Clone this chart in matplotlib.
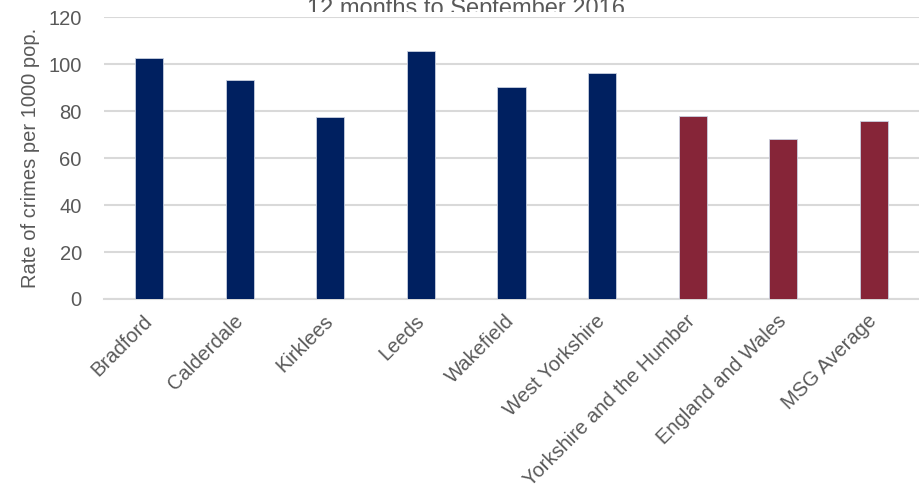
import matplotlib
matplotlib.use("Agg")
import matplotlib.pyplot as plt
from matplotlib.patches import Rectangle

categories = ["Bradford", "Calderdale", "Kirklees", "Leeds", "Wakefield",
              "West Yorkshire", "Yorkshire and the Humber", "England and Wales", "MSG Average"]
values = [102.5, 93.1, 77.3, 105.4, 90.2, 96.1, 77.7, 68.0, 75.6]
bar_colors = ["#002060"] * 6 + ["#862538"] * 3
yticks = [0, 20, 40, 60, 80, 100, 120]
title = "12 months to September 2016"
ylabel = "Rate of crimes per 1000 pop."

plt.rcParams['font.family'] = ['Liberation Sans', 'DejaVu Sans']
W, H = 919, 494
fig = plt.figure(figsize=(W / 100, H / 100), dpi=100)

left, right, top, bottom = 104, 919, 17, 299
ax = fig.add_axes([left / W, 1 - bottom / H, (right - left) / W, (bottom - top) / H])
ax.set_zorder(3)
x = list(range(len(categories)))
ax.bar(x, values, width=0.31, color=bar_colors, edgecolor="#c9d0e0", linewidth=0.6, zorder=3)
ax.set_xlim(-0.5, len(categories) - 0.5)
ax.set_ylim(0, 120)
ax.set_yticks(yticks)
ax.yaxis.grid(True, color="#d9d9d9", linewidth=1.5)
ax.set_axisbelow(True)
for s in ["top", "right", "left"]:
    ax.spines[s].set_visible(False)
ax.spines["bottom"].set_color("#d9d9d9")
ax.spines["bottom"].set_linewidth(1.5)
ax.tick_params(axis="both", length=0, labelsize=14.5, colors="#595959")
ax.tick_params(axis="y", pad=16)
ax.set_xticks(x)
ax.set_xticklabels(categories, rotation=45, ha="right", va="center", rotation_mode="anchor")
for lab in ax.get_xticklabels():
    lab.set_y(-0.05)
ax.set_ylabel(ylabel, fontsize=14.5, color="#595959")
ax.yaxis.set_label_coords(-(left - 40) / (right - left), 0.5)

fig.text(466 / W, 1 - 14.5 / H, title, ha="center", va="baseline", fontsize=17, color="#595959", zorder=1)
fig.add_artist(Rectangle((0, 1 - top / H), 1, 5 / H, transform=fig.transFigure,
                         facecolor="white", edgecolor="none", zorder=2))

fig.savefig("out.png", dpi=100)
